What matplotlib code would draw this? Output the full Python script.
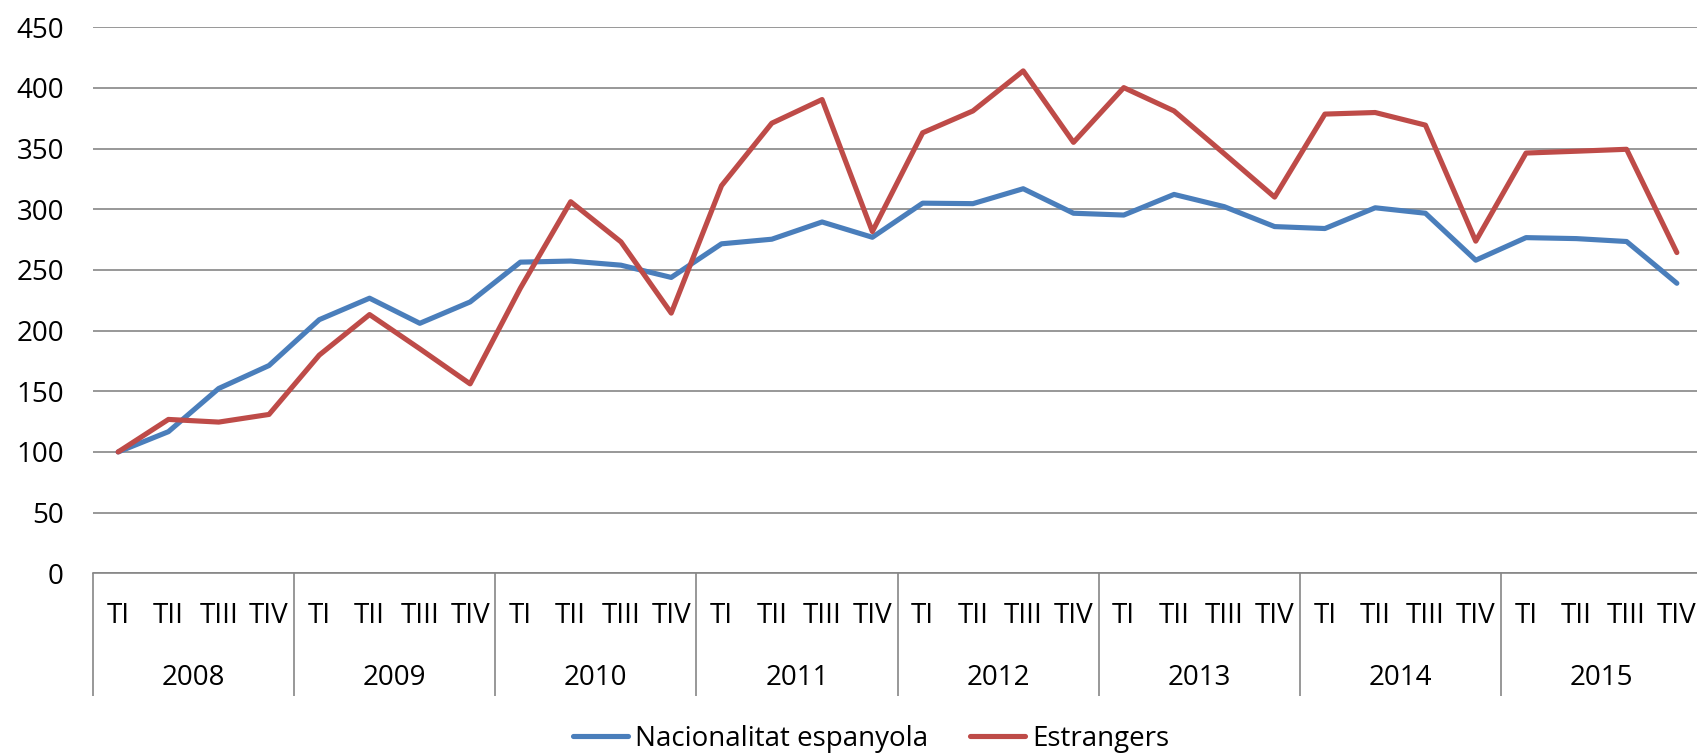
import matplotlib.pyplot as plt
from matplotlib.transforms import blended_transform_factory

years = ['2008', '2009', '2010', '2011', '2012', '2013', '2014', '2015']
quarters = ['TI', 'TII', 'TIII', 'TIV']

espanyola = [100, 116.7, 152.3, 171.2, 209, 226.7, 206, 223.6,
             256.4, 257.3, 253.9, 243.8, 271.5, 275.3, 289.5, 276.9,
             305, 304.6, 316.9, 296.7, 295.2, 312.2, 302.1, 285.7,
             284.1, 301.2, 296.7, 258, 276.6, 275.8, 273.4, 239]
estrangers = [100, 126.8, 124.6, 130.9, 179.8, 213.2, 185, 156.1,
              235, 306.2, 273.1, 214.4, 319.4, 370.9, 390.4, 281.6,
              363, 381, 414, 355.1, 400.2, 381, 345.7, 310,
              378.4, 379.7, 369.3, 273.7, 346.3, 347.8, 349.4, 264.3]

plt.rcParams['font.family'] = ['Open Sans', 'DejaVu Sans']
grey = '#868686'

W, H = 1697, 754
fig = plt.figure(figsize=(W / 100, H / 100), dpi=100)
ax = fig.add_axes([93 / W, 180.7 / H, 1609 / W, 546.1 / H])

x = list(range(len(espanyola)))
ax.plot(x, espanyola, color='#4A7EBB', lw=3.7, label='Nacionalitat espanyola',
        solid_joinstyle='round', solid_capstyle='round')
ax.plot(x, estrangers, color='#BE4B48', lw=3.7, label='Estrangers',
        solid_joinstyle='round', solid_capstyle='round')

ax.set_xlim(-0.5, len(x) - 0.5)
ax.set_ylim(0, 450)
ax.set_yticks(range(0, 451, 50))
ax.yaxis.grid(True, color=grey, lw=1.2)
ax.set_axisbelow(True)

for s in ['left', 'right', 'top']:
    ax.spines[s].set_visible(False)
ax.spines['bottom'].set_color(grey)
ax.spines['bottom'].set_linewidth(1.2)

ax.tick_params(axis='y', length=0, pad=21, labelsize=20, labelcolor='black')
ax.set_xticks(x)
ax.set_xticklabels(quarters * len(years))
ax.tick_params(axis='x', which='major', length=0, pad=21, labelsize=20)

# year separators as long minor ticks
ax.set_xticks([-0.5 + 4 * k for k in range(len(years) + 1)], minor=True)
ax.tick_params(axis='x', which='minor', length=88.5, width=1.2, color=grey)

trans = blended_transform_factory(ax.transData, ax.transAxes)
for k, yr in enumerate(years):
    ax.text(1.5 + 4 * k, -0.191, yr, transform=trans, ha='center', va='center',
            fontsize=20)

fig.legend(loc='center', bbox_to_anchor=(871 / W, 1 - 739 / H), ncol=2,
           frameon=False, fontsize=20, handlelength=2.0, handletextpad=0.25,
           columnspacing=1.5)

fig.savefig('out.png', dpi=100)
